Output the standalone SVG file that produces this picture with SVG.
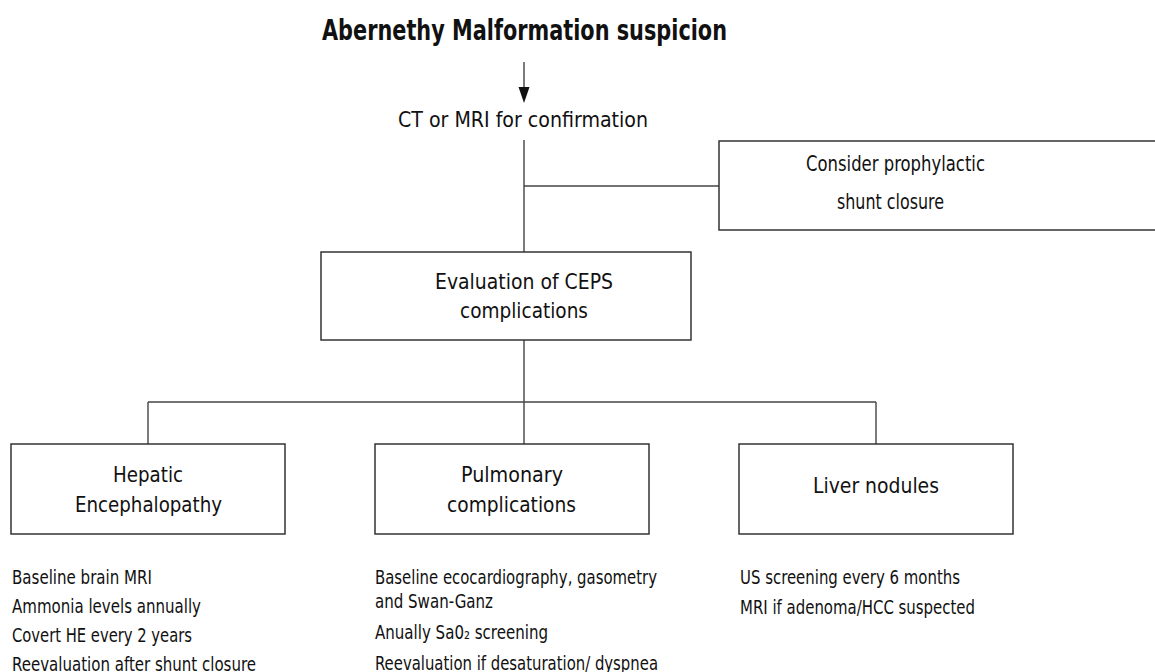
<svg xmlns="http://www.w3.org/2000/svg" width="1155" height="672" viewBox="0 0 1155 672">
<style>
text{font-family:"Liberation Sans Narrow","DejaVu Sans Condensed","Liberation Sans",sans-serif;fill:#111;}
.t{font-size:29px;font-weight:bold;}
.m{font-size:22px;}
.s{font-size:20px;}
.box{fill:#fff;stroke:#333;stroke-width:1.5;}
.ln{stroke:#444;stroke-width:1.4;fill:none;}
</style>
<rect width="1155" height="672" fill="#fff"/>
<g id="connectors">
<line class="ln" x1="524" y1="62" x2="524" y2="90"/>
<polygon points="518.5,87 529.5,87 524,103" fill="#111"/>
<line class="ln" x1="524" y1="140" x2="524" y2="252"/>
<line class="ln" x1="524" y1="186" x2="719" y2="186"/>
<line class="ln" x1="524" y1="340" x2="524" y2="402"/>
<line class="ln" x1="148" y1="402" x2="876" y2="402"/>
<line class="ln" x1="148" y1="402" x2="148" y2="444"/>
<line class="ln" x1="524" y1="402" x2="524" y2="444"/>
<line class="ln" x1="876" y1="402" x2="876" y2="444"/>
</g>
<g id="title">
<text class="t" x="322" y="40" textLength="405" lengthAdjust="spacingAndGlyphs">Abernethy Malformation suspicion</text>
</g>
<g id="ct">
<text class="m" x="398" y="127" textLength="250" lengthAdjust="spacingAndGlyphs">CT or MRI for confirmation</text>
</g>
<g id="prophylactic">
<rect class="box" x="719" y="141" width="445" height="89"/>
<text class="m" x="806" y="171" textLength="179" lengthAdjust="spacingAndGlyphs">Consider prophylactic</text>
<text class="m" x="837" y="209" textLength="107" lengthAdjust="spacingAndGlyphs">shunt closure</text>
</g>
<g id="evaluation">
<rect class="box" x="321" y="252" width="370" height="88"/>
<text class="m" x="435" y="289" textLength="178" lengthAdjust="spacingAndGlyphs">Evaluation of CEPS</text>
<text class="m" x="460" y="318" textLength="128" lengthAdjust="spacingAndGlyphs">complications</text>
</g>
<g id="hepatic">
<rect class="box" x="11" y="444" width="274" height="90"/>
<text class="m" x="113" y="482" textLength="70" lengthAdjust="spacingAndGlyphs">Hepatic</text>
<text class="m" x="75" y="512" textLength="147" lengthAdjust="spacingAndGlyphs">Encephalopathy</text>
</g>
<g id="pulmonary">
<rect class="box" x="375" y="444" width="274" height="90"/>
<text class="m" x="461" y="482" textLength="102" lengthAdjust="spacingAndGlyphs">Pulmonary</text>
<text class="m" x="447" y="512" textLength="129" lengthAdjust="spacingAndGlyphs">complications</text>
</g>
<g id="liver">
<rect class="box" x="739" y="444" width="274" height="90"/>
<text class="m" x="813" y="493" textLength="126" lengthAdjust="spacingAndGlyphs">Liver nodules</text>
</g>
<g id="hepatic-notes">
<text class="s" x="12" y="584" textLength="140" lengthAdjust="spacingAndGlyphs">Baseline brain MRI</text>
<text class="s" x="12" y="613" textLength="189" lengthAdjust="spacingAndGlyphs">Ammonia levels annually</text>
<text class="s" x="12" y="642" textLength="180" lengthAdjust="spacingAndGlyphs">Covert HE every 2 years</text>
<text class="s" x="12" y="671" textLength="244" lengthAdjust="spacingAndGlyphs">Reevaluation after shunt closure</text>
</g>
<g id="pulmonary-notes">
<text class="s" x="375" y="584" textLength="282" lengthAdjust="spacingAndGlyphs">Baseline ecocardiography, gasometry</text>
<text class="s" x="375" y="608" textLength="118" lengthAdjust="spacingAndGlyphs">and Swan-Ganz</text>
<text class="s" x="375" y="639" textLength="173" lengthAdjust="spacingAndGlyphs">Anually Sa0₂ screening</text>
<text class="s" x="375" y="670" textLength="283" lengthAdjust="spacingAndGlyphs">Reevaluation if desaturation/ dyspnea</text>
</g>
<g id="liver-notes">
<text class="s" x="740" y="584" textLength="220" lengthAdjust="spacingAndGlyphs">US screening every 6 months</text>
<text class="s" x="740" y="614" textLength="235" lengthAdjust="spacingAndGlyphs">MRI if adenoma/HCC suspected</text>
</g>
</svg>
